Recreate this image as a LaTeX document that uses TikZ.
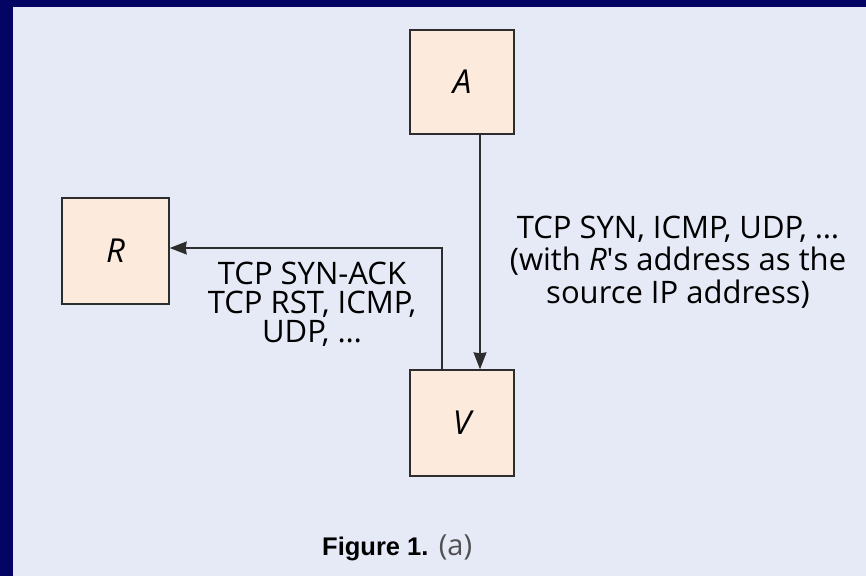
\documentclass[tikz,border=0pt]{standalone}
\usepackage{fontspec}
\setmainfont{Open Sans}
\newfontfamily\capfont{Liberation Sans}
\usetikzlibrary{arrows.meta}
\definecolor{slidebg}{RGB}{4,4,100}
\definecolor{panel}{RGB}{230,234,246}
\definecolor{boxfill}{RGB}{252,235,221}
\definecolor{boxline}{RGB}{45,45,45}
\definecolor{capgray}{RGB}{80,80,80}
\tikzset{
  hostbox/.style={draw=boxline, line width=1.4pt, fill=boxfill, inner sep=0pt,
    font=\fontsize{33}{36}\selectfont\itshape},
  conn/.style={draw=boxline, line width=1.2pt, -{Stealth[length=17pt,width=13pt,inset=1pt]}},
  lbl/.style={align=center, inner sep=0pt, anchor=base},
}
\begin{document}
\begin{tikzpicture}[x=1pt,y=1pt]
\useasboundingbox (0,0) rectangle (866,-576);
\fill[slidebg] (0,0) rectangle (866,-576);
\fill[panel] (13,-7) rectangle (866,-576);

\node[hostbox, minimum width=104pt, minimum height=104pt] (A) at (462,-82) {A};
\node[hostbox, minimum width=104pt, minimum height=106pt] (V) at (462,-423) {V};
\node[hostbox, minimum width=107pt, minimum height=106pt] (R) at (115.5,-251) {R};

\draw[conn] ([xshift=18pt]A.south) -- ([xshift=18pt]V.north);
\draw[conn] ([xshift=-20pt]V.north) |- ([yshift=3pt]R.east);

\node[lbl, font=\fontsize{31}{29}\selectfont] (left) at (312,-342) {TCP SYN-ACK\\TCP RST, ICMP,\\UDP, \dots};
\node[lbl, font=\fontsize{31}{32.5}\selectfont] (right) at (678,-303) {TCP SYN, ICMP, UDP, \dots\\(with \textit{R}\textquotesingle s address as the\\source IP address)};

\node[anchor=base west, inner sep=0pt, font=\capfont\bfseries\fontsize{25.5}{30}\selectfont] (cap) at (322,-555) {Figure 1.};
\node[anchor=base west, inner sep=0pt, text=capgray, font=\fontsize{29}{30}\selectfont] (capa) at ([xshift=10pt]cap.base east) {(a)};
\end{tikzpicture}
\end{document}
